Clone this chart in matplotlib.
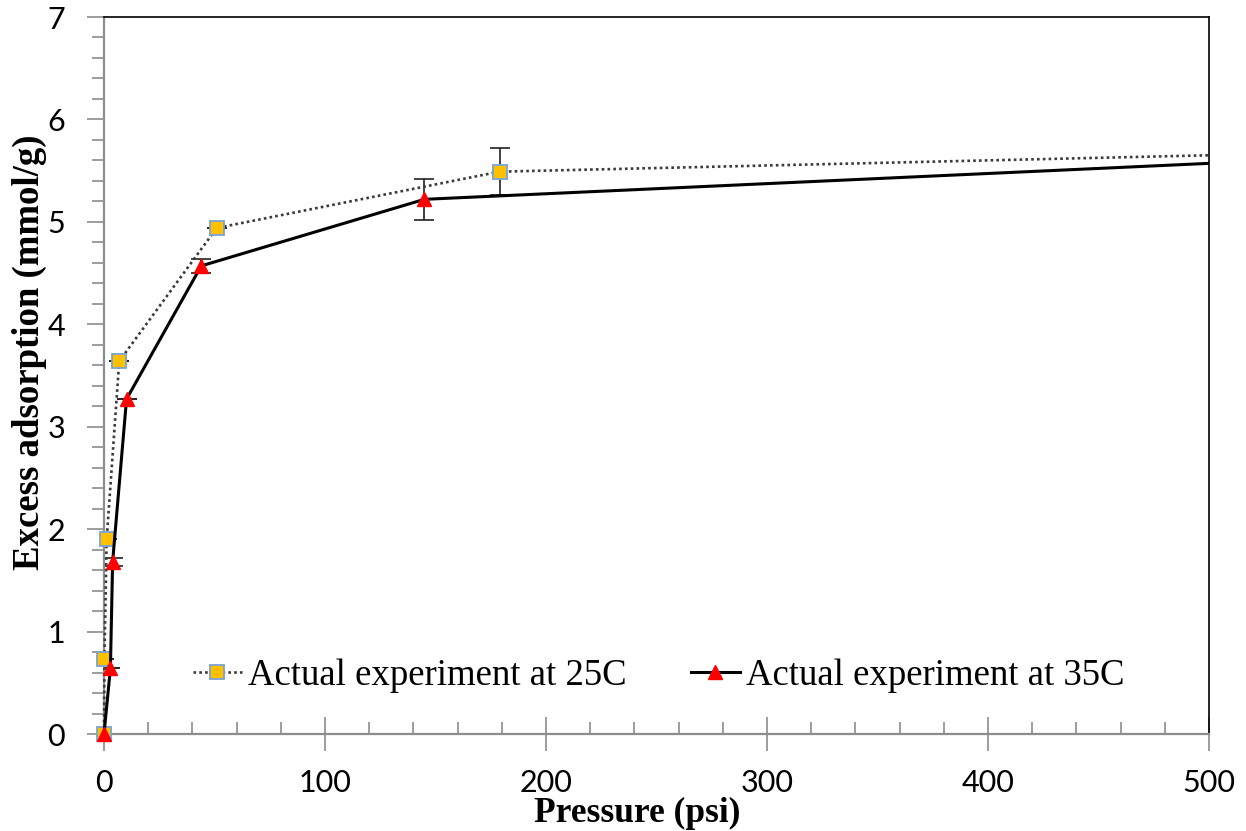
import matplotlib.pyplot as plt
from matplotlib.ticker import MultipleLocator
from matplotlib.transforms import Bbox, TransformedBbox

# Experimental data (pressure in psi, excess adsorption in mmol/g)
p_25 = [0, 0.2, 1.2, 6.9, 51, 179, 600]
q_25 = [0, 0.73, 1.90, 3.64, 4.94, 5.49, 5.70]
err_25 = [0, 0, 0, 0, 0, 0.23, 0]

p_35 = [0, 2.9, 3.9, 10.2, 44, 145, 600]
q_35 = [0, 0.64, 1.68, 3.27, 4.57, 5.22, 5.67]
err_35 = [0, 0, 0.04, 0, 0.07, 0.20, 0]

x_ticks = [0, 100, 200, 300, 400, 500]
y_ticks = [0, 1, 2, 3, 4, 5, 6, 7]

W, H = 1246, 831


def main():
    fig = plt.figure(figsize=(W / 100, H / 100), dpi=100)
    ax = fig.add_axes([104 / W, 1 - 734 / H, (1209 - 104) / W, (734 - 17) / H])

    # error bars drawn separately so the legend shows only line + marker
    ax.errorbar(p_25, q_25, yerr=err_25, fmt='none', ecolor='#222222',
                elinewidth=1.2, capsize=7, capthick=1.2, zorder=2)
    ax.errorbar(p_35, q_35, yerr=err_35, fmt='none', ecolor='#222222',
                elinewidth=1.2, capsize=7, capthick=1.2, zorder=2)

    l25, = ax.plot(p_25, q_25, color='#3a3a3a', linestyle=(0, (1, 1.2)), linewidth=1.9,
                   marker='s', markersize=10, markerfacecolor='#FFC000',
                   markeredgecolor='#7AA3D4', markeredgewidth=1.3,
                   label='Actual experiment at 25C', zorder=3)
    l35, = ax.plot(p_35, q_35, color='black', linestyle='-', linewidth=2.2,
                   marker='^', markersize=10.5, markerfacecolor='#FF0000',
                   markeredgecolor='#FF0000', markeredgewidth=1,
                   label='Actual experiment at 35C', zorder=4)

    # let markers at the origin show fully, but still cut the lines at x = 500
    clip = TransformedBbox(Bbox([[-0.05, -0.05], [1.0, 1.0]]), ax.transAxes)
    for ln in (l25, l35):
        ln.set_clip_box(clip)

    ax.set_xlim(0, 500)
    ax.set_ylim(0, 7)
    ax.set_xticks(x_ticks)
    ax.set_yticks(y_ticks)
    ax.xaxis.set_minor_locator(MultipleLocator(20))
    ax.yaxis.set_minor_locator(MultipleLocator(0.2))

    for side in ['left', 'bottom']:
        ax.spines[side].set_color('#8C8C8C')
        ax.spines[side].set_linewidth(1.6)
    for side in ['top', 'right']:
        ax.spines[side].set_color('black')
        ax.spines[side].set_linewidth(1.2)

    ax.tick_params(axis='x', which='major', direction='inout', length=24, width=1.2,
                   color='#8C8C8C', pad=13, labelsize=22)
    ax.tick_params(axis='x', which='minor', direction='in', length=9, width=1.2,
                   color='#8C8C8C')
    ax.tick_params(axis='y', which='major', direction='out', length=12, width=1.2,
                   color='#8C8C8C', pad=16, labelsize=22)
    ax.tick_params(axis='y', which='minor', direction='out', length=9, width=1.2,
                   color='#8C8C8C')
    for lbl in ax.get_xticklabels() + ax.get_yticklabels():
        lbl.set_fontfamily('Lato')

    fig.text(637 / W, 1 - 822 / H, 'Pressure (psi)', ha='center', va='baseline',
             fontfamily='Liberation Serif', fontweight='bold', fontsize=25.5)
    fig.text(29 / W, 1 - 352 / H, 'Excess adsorption (mmol/g)', ha='center',
             va='center', rotation=90, fontfamily='Liberation Serif',
             fontweight='bold', fontsize=26.5)

    ax.legend(loc='center left', bbox_to_anchor=(193 / W, 1 - 676 / H),
              bbox_transform=fig.transFigure, ncol=2, frameon=False,
              prop={'family': 'Liberation Serif', 'size': 26.5},
              borderpad=0, borderaxespad=0,
              handlelength=1.33, handletextpad=0.16, columnspacing=1.75)

    fig.savefig('out.png', dpi=100)


if __name__ == "__main__":
    main()
